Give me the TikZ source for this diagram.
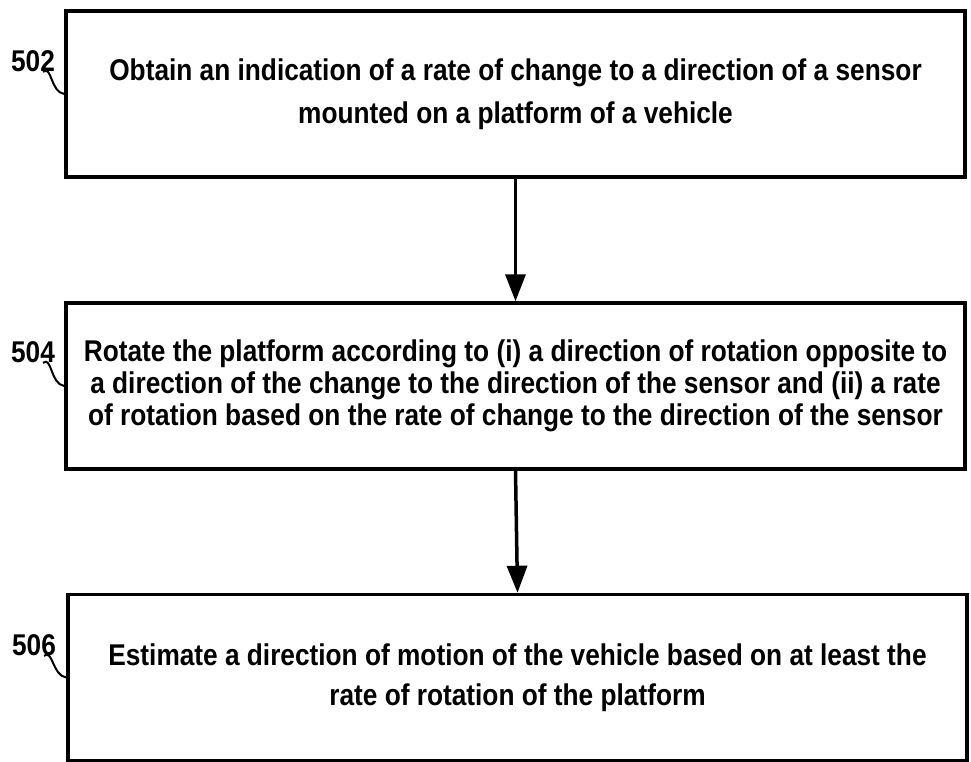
\documentclass[tikz,border=0pt]{standalone}
\usepackage{fontspec}
\setmainfont{Liberation Sans}[FakeStretch=0.875]
\usetikzlibrary{arrows.meta}
\tikzset{
  etape/.style={draw=black, line width=3.5pt, minimum width=899pt,
    minimum height=166pt, inner sep=0pt, align=center},
  repere/.style={inner sep=0pt, font=\fontsize{30}{30}\selectfont\bfseries},
  fleche/.style={draw=black, line width=3.5pt,
    -{Triangle[width=20pt,length=27pt]}},
  renvoi/.style={draw=black, line width=2pt},
}

\begin{document}
\begin{tikzpicture}[x=1pt, y=-1pt]
  \useasboundingbox (0,0) rectangle (971,762);

  % Etapes.
  \node[etape, font=\fontsize{30}{43}\selectfont\bfseries] (e502) at (515.5,94)
    {Obtain an indication of a rate of change to a direction of a sensor\\
     mounted on a platform of a vehicle};
  \node[etape, font=\fontsize{30}{32}\selectfont\bfseries] (e504) at (515.5,386)
    {Rotate the platform according to (i) a direction of rotation opposite to\\
     a direction of the change to the direction of the sensor and (ii) a rate\\
     of rotation based on the rate of change to the direction of the sensor};
  \node[etape, font=\fontsize{30}{40}\selectfont\bfseries] (e506) at (517.5,677.5)
    {Estimate a direction of motion of the vehicle based on at least the\\
     rate of rotation of the platform};

  % Fleches.
  \path[fleche] (e502.south) -- (e504.north);
  \path[fleche] (e504.south) -- (e506.north);

  % Reperes.
  \node[repere] (l502) at (33,61) {502};
  \node[repere] (l504) at (33,352) {504};
  \node[repere] (l506) at (34,645) {506};
  \path[renvoi] ([xshift=10pt]l502.south) .. controls +(9,-7) and +(-14,-2) .. (e502.west);
  \path[renvoi] ([xshift=10pt]l504.south) .. controls +(9,-7) and +(-14,-2) .. (e504.west);
  \path[renvoi] ([xshift=10pt]l506.south) .. controls +(9,-7) and +(-14,-2) .. (e506.west);
\end{tikzpicture}
\end{document}
